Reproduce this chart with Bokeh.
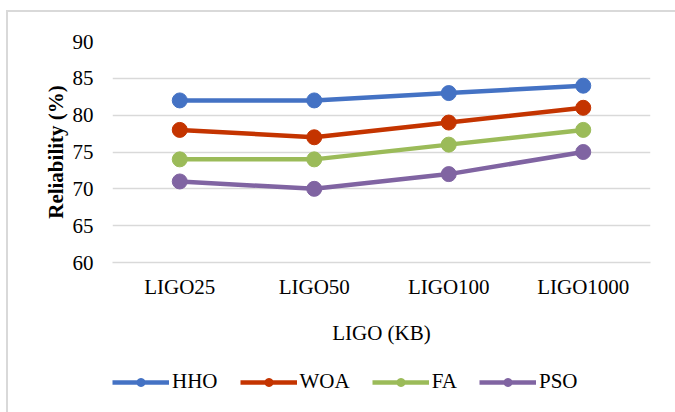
from bokeh.plotting import figure
from bokeh.models import Legend, LegendItem, Range1d, FixedTicker
from bokeh.layouts import column
from bokeh.embed import file_html
from bokeh.resources import INLINE

categories = ["LIGO25", "LIGO50", "LIGO100", "LIGO1000"]
hho = [82, 82, 83, 84]
woa = [78, 77, 79, 81]
fa = [74, 74, 76, 78]
pso = [71, 70, 72, 75]
series_names = ["HHO", "WOA", "FA", "PSO"]
y_ticks = [60, 65, 70, 75, 80, 85, 90]

colors = ["#4472C4", "#C43400", "#9BBB59", "#8064A2"]
FONT = "Liberation Serif"
series = [hho, woa, fa, pso]

p = figure(width=667, height=345, x_range=categories, y_range=Range1d(60, 90),
           output_backend="svg", toolbar_location=None,
           min_border_left=104, min_border_right=25, min_border_top=29, min_border_bottom=95)
p.x_range.range_padding = 0
p.outline_line_color = None
p.background_fill_color = "white"
p.border_fill_color = "white"

p.xgrid.grid_line_color = None
p.ygrid.grid_line_color = "#D9D9D9"
p.ygrid.grid_line_width = 1.5
p.yaxis.ticker = FixedTicker(ticks=y_ticks)

for ax in (p.xaxis[0], p.yaxis[0]):
    ax.axis_line_color = None
    ax.major_tick_line_color = None
    ax.minor_tick_line_color = None
    ax.major_tick_out = 0
    ax.major_tick_in = 0
    ax.major_label_text_font = FONT
    ax.major_label_text_font_size = "21px"
    ax.major_label_text_color = "black"
    ax.axis_label_text_font = FONT
    ax.axis_label_text_font_size = "21px"
    ax.axis_label_text_color = "black"

p.xaxis.axis_line_color = "#D9D9D9"
p.xaxis.axis_line_width = 1.5
p.yaxis.axis_label = "Reliability (%)"
p.yaxis.axis_label_text_font_style = "bold"
p.yaxis.major_label_standoff = 19
p.yaxis.axis_label_standoff = 2
p.xaxis.axis_label = "LIGO (KB)"
p.xaxis.axis_label_text_font_style = "normal"
p.xaxis.major_label_standoff = 12
p.xaxis.axis_label_standoff = 19

for name, vals, c in zip(series_names, series, colors):
    p.line(categories, vals, line_color=c, line_width=4.5)
    p.scatter(categories, vals, size=15, fill_color=c, line_color=c)

# legend strip (its renderers lie outside its visible range)
q = figure(width=667, height=55, x_range=categories, y_range=Range1d(0, 1),
           output_backend="svg", toolbar_location=None,
           min_border_left=0, min_border_right=0, min_border_top=0, min_border_bottom=0)
q.axis.visible = False
q.grid.visible = False
q.outline_line_color = None
q.border_fill_color = "white"
q.background_fill_color = "white"

items = []
for name, vals, c in zip(series_names, series, colors):
    r1 = q.line(categories, vals, line_color=c, line_width=4.5)
    r2 = q.scatter(categories, vals, size=11, fill_color=c, line_color=c)
    items.append(LegendItem(label=name, renderers=[r1, r2]))

legend = Legend(items=items, orientation="horizontal", location=(0, 18),
                glyph_width=57, glyph_height=20, label_standoff=3, spacing=22,
                padding=0, margin=0, border_line_color=None, background_fill_alpha=0,
                label_text_font=FONT, label_text_font_size="21px", label_text_color="black")
q.add_layout(legend, "center")

layout = column(p, q, margin=(10, 0, 0, 6),
                styles={"border-left": "2px solid #D9D9D9", "border-top": "2px solid #D9D9D9"})

open("out.html", "w").write(file_html(layout, INLINE))
